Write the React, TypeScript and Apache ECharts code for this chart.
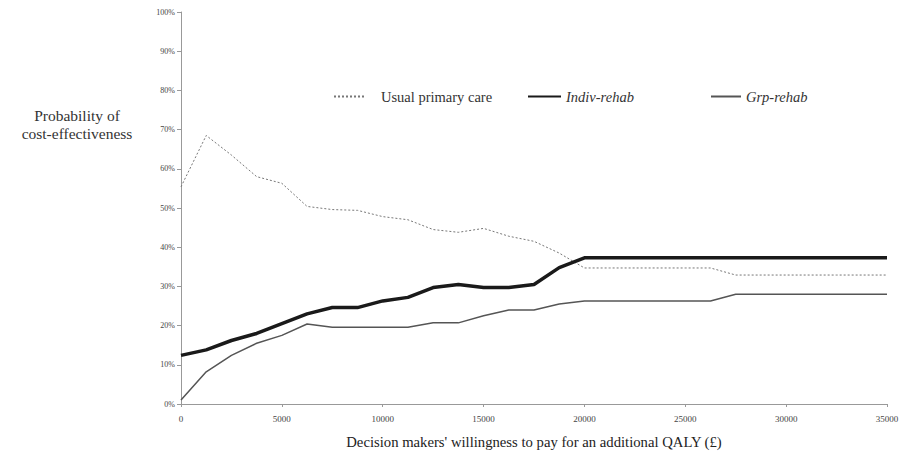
import React, { useEffect, useRef } from "react";
import * as echarts from "echarts";

const wtp = [0, 1250, 2500, 3750, 5000, 6250, 7500, 8750, 10000, 11250, 12500, 13750, 15000, 16250, 17500, 18750, 20000, 21250, 22500, 23750, 25000, 26250, 27500, 28750, 30000, 31250, 32500, 33750, 35000];
const usualCare = [55.4, 68.5, 63.5, 58, 56.3, 50.4, 49.6, 49.4, 47.8, 47, 44.5, 43.8, 44.8, 42.8, 41.5, 38.5, 34.7, 34.7, 34.7, 34.7, 34.7, 34.7, 32.9, 32.9, 32.9, 32.9, 32.9, 32.9, 32.9];
const indivRehab = [12.4, 13.8, 16.2, 18, 20.5, 23, 24.6, 24.6, 26.3, 27.2, 29.7, 30.5, 29.7, 29.7, 30.5, 34.8, 37.3, 37.3, 37.3, 37.3, 37.3, 37.3, 37.3, 37.3, 37.3, 37.3, 37.3, 37.3, 37.3];
const grpRehab = [1, 8.2, 12.4, 15.5, 17.5, 20.4, 19.6, 19.6, 19.6, 19.6, 20.7, 20.7, 22.5, 24, 24, 25.5, 26.3, 26.3, 26.3, 26.3, 26.3, 26.3, 28, 28, 28, 28, 28, 28, 28];
const seriesNames = ["Usual primary care", "Indiv-rehab", "Grp-rehab"];

const FONT = "Liberation Serif";

export default function App() {
  const ref = useRef<HTMLDivElement>(null);
  useEffect(() => {
    if (!ref.current) return;
    const chart = echarts.init(ref.current, undefined, { renderer: "svg" });
    const pairs = (ys: number[]) => wtp.map((x, i) => [x, ys[i] / 100]);
    const legendText = (italic: boolean, padLeft: number) => ({
      fontFamily: FONT,
      fontSize: 14.5,
      color: "#333",
      fontStyle: italic ? "italic" : "normal",
      padding: [0, 0, 0, padLeft],
    });
    const legendBase = {
      top: 84,
      itemHeight: 10,
      itemGap: 15,
      itemStyle: { color: "transparent", borderWidth: 0 },
    };
    chart.setOption({
      animation: false,
      backgroundColor: "#fff",
      grid: { left: 181, right: 20, top: 12, bottom: 51 },
      legend: [
        { ...legendBase, data: [seriesNames[0]], left: 328, itemWidth: 32, textStyle: legendText(false, 10) },
        { ...legendBase, data: [seriesNames[1]], left: 522, itemWidth: 33, textStyle: legendText(true, 0) },
        { ...legendBase, data: [seriesNames[2]], left: 705, itemWidth: 30, textStyle: legendText(true, 0) },
      ],
      xAxis: {
        type: "value",
        min: 0,
        max: 35000,
        interval: 5000,
        name: "Decision makers' willingness to pay for an additional QALY (£)",
        nameLocation: "middle",
        nameGap: 30,
        nameTextStyle: { fontFamily: FONT, fontSize: 14.7, color: "#222" },
        axisLine: { lineStyle: { color: "#999", width: 1 } },
        axisTick: { show: true, length: 3, lineStyle: { color: "#999" } },
        axisLabel: {
          fontFamily: FONT,
          fontSize: 9,
          color: "#444",
          margin: 10,
          formatter: (v: number) => String(v),
        },
        splitLine: { show: false },
      },
      yAxis: {
        type: "value",
        min: 0,
        max: 1,
        interval: 0.1,
        axisLine: { show: true, lineStyle: { color: "#999", width: 1 } },
        axisTick: { show: true, length: 4, lineStyle: { color: "#999" } },
        axisLabel: {
          fontFamily: FONT,
          fontSize: 8,
          color: "#444",
          margin: 6,
          formatter: (v: number) => Math.round(v * 100) + "%",
        },
        splitLine: { show: false },
      },
      graphic: [
        {
          type: "text",
          x: 77,
          y: 106,
          style: {
            text: "Probability of\ncost-effectiveness",
            font: `15.5px '${FONT}'`,
            fill: "#333",
            align: "center",
            verticalAlign: "top",
            lineHeight: 18,
          },
        },
      ],
      series: [
        {
          name: seriesNames[0],
          type: "line",
          symbol: "none",
          data: pairs(usualCare),
          lineStyle: { color: "#777", width: 1, type: [2, 2] },
          itemStyle: { color: "#777" },
        },
        {
          name: seriesNames[1],
          type: "line",
          symbol: "none",
          data: pairs(indivRehab),
          lineStyle: { color: "#1a1a1a", width: 3.5 },
          itemStyle: { color: "#1a1a1a" },
        },
        {
          name: seriesNames[2],
          type: "line",
          symbol: "none",
          data: pairs(grpRehab),
          lineStyle: { color: "#555", width: 1.5 },
          itemStyle: { color: "#555" },
        },
      ],
    });
    return () => chart.dispose();
  }, []);
  return (
    <div
      ref={ref}
      style={{ position: "absolute", left: 0, top: 0, width: 907, height: 455 }}
    />
  );
}
